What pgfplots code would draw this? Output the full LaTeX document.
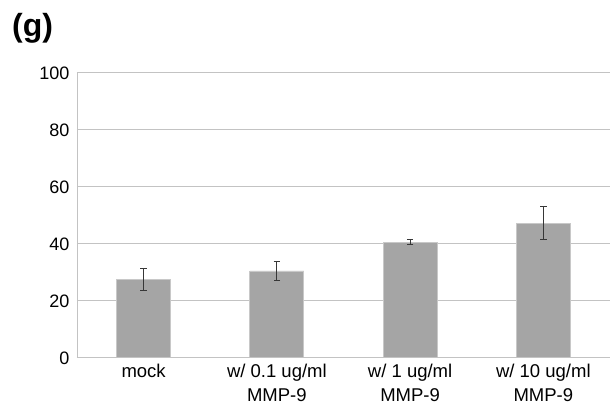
\documentclass[border=0pt]{standalone}
\usepackage{pgfplots}
\pgfplotsset{compat=1.18}
\usepackage{fontspec}
\setmainfont{Liberation Sans}
\definecolor{barg}{RGB}{165,165,165}
\definecolor{bard}{RGB}{200,200,200}
\definecolor{gridg}{RGB}{195,195,195}
\definecolor{errg}{RGB}{55,55,55}
\begin{document}
\begin{tikzpicture}[x=1pt,y=1pt]
\path[use as bounding box] (0,0) rectangle (614,407);
\node[anchor=north west, font=\bfseries\fontsize{32}{36}\selectfont, inner sep=0pt] at (12,394) {(g)};
\begin{axis}[
  at={(77pt,50pt)}, anchor=south west,
  scale only axis, width=533pt, height=285pt,
  xmin=-0.5, xmax=3.5, ymin=0, ymax=100,
  ytick={0,20,40,60,80,100},
  xtick={0,1,2,3},
  xticklabels={mock,{w/ 0.1 ug/ml\\MMP-9},{w/ 1 ug/ml\\MMP-9},{w/ 10 ug/ml\\MMP-9}},
  xticklabel style={align=center, font=\fontsize{18.5}{23.5}\selectfont, yshift=-4pt},
  yticklabel style={font=\fontsize{18}{21}\selectfont, xshift=-4pt, yshift=-1.5pt},
  /pgf/number format/assume math mode=true,
  major tick length=0pt,
  axis x line*=bottom, axis y line*=left,
  axis line style={draw=gridg, line width=0.9pt, -},
  ymajorgrids, grid style={draw=gridg, line width=0.9pt},
  tick style={draw=none},
]
\addplot[ybar, bar width=54pt, fill=barg, draw=bard, line width=0.8pt,
  error bars/.cd, y dir=both, y explicit,
  error bar style={draw=errg, line width=1pt},
  error mark options={draw=errg, rotate=90, mark size=3.3pt, line width=1pt}]
  coordinates {
  (0,27.2) +- (0,4.0)
  (1,30.2) +- (0,3.3)
  (2,40.3) +- (0,1.0)
  (3,47.0) +- (0,5.7)
  };
\end{axis}
\end{tikzpicture}
\end{document}
